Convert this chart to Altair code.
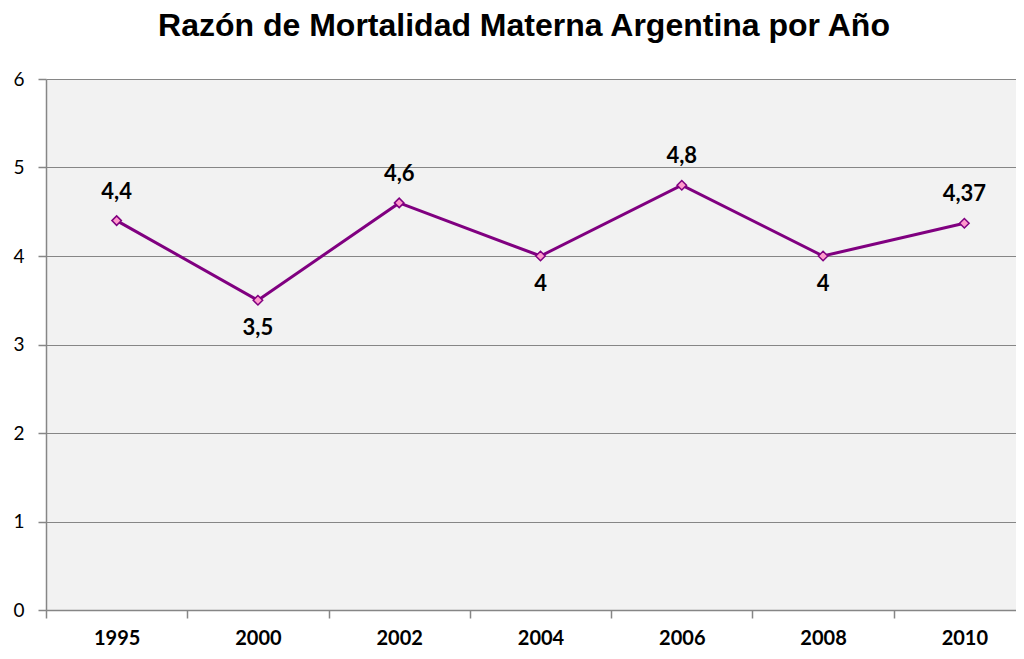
import altair as alt
import pandas as pd

years = ["1995", "2000", "2002", "2004", "2006", "2008", "2010"]
values = [4.4, 3.5, 4.6, 4.0, 4.8, 4.0, 4.37]
labels = ["4,4", "3,5", "4,6", "4", "4,8", "4", "4,37"]
label_pos = ["above", "below", "above", "below", "above", "below", "above"]

df = pd.DataFrame({"year": years, "value": values, "label": labels, "pos": label_pos})

grey = "#868686"
purple = "#800080"

x = alt.X("year:N", sort=years, title=None,
          scale=alt.Scale(type="band", domain=years, range=[0, 989], paddingInner=0, paddingOuter=0),
          axis=alt.Axis(tickBand="extent", labelAngle=0, labelFont="Lato", labelFontSize=20,
                        labelFontWeight="bold", labelColor="#000000", labelPadding=10,
                        tickSize=8, tickColor=grey, tickWidth=1.5, domainColor=grey, domainWidth=1.5,
                        grid=False))
y = alt.Y("value:Q", title=None,
          scale=alt.Scale(domain=[0, 6], nice=False, zero=True),
          axis=alt.Axis(values=[0, 1, 2, 3, 4, 5, 6], labelFont="Lato", labelFontSize=19,
                        labelColor="#000000", labelPadding=14, tickSize=8, tickColor=grey,
                        tickWidth=1.5, domainColor=grey, domainWidth=1.5, grid=True,
                        gridColor=grey, gridWidth=1.2))

base = alt.Chart(df)

line = base.mark_line(color=purple, strokeWidth=3).encode(x=x, y=y)
pts = base.mark_point(shape="diamond", filled=True, fill="#ff99cc", stroke=purple,
                      strokeWidth=1.5, size=90, opacity=1).encode(x=x, y=y)
txt_above = base.transform_filter(alt.datum.pos == "above").mark_text(
    font="Lato", fontSize=22, fontWeight="bold", color="#000000", dy=-29, baseline="middle"
).encode(x=x, y=y, text="label:N")
txt_below = base.transform_filter(alt.datum.pos == "below").mark_text(
    font="Lato", fontSize=22, fontWeight="bold", color="#000000", dy=28, baseline="middle"
).encode(x=x, y=y, text="label:N")

chart = alt.layer(line, pts, txt_above, txt_below).properties(
    width=970, height=531,
    title=alt.TitleParams("Razón de Mortalidad Materna Argentina por Año", font="Liberation Sans",
                          fontSize=32, fontWeight="bold", color="#000000", anchor="middle",
                          dx=-7, offset=2, baseline="alphabetic"),
    autosize=alt.AutoSizeParams(type="none"),
    padding={"left": 38, "top": 71, "right": 0, "bottom": 41},
).configure_view(fill="#f2f2f2", stroke="transparent")

chart.save("out.html", embed_options={"renderer": "svg", "actions": False})
